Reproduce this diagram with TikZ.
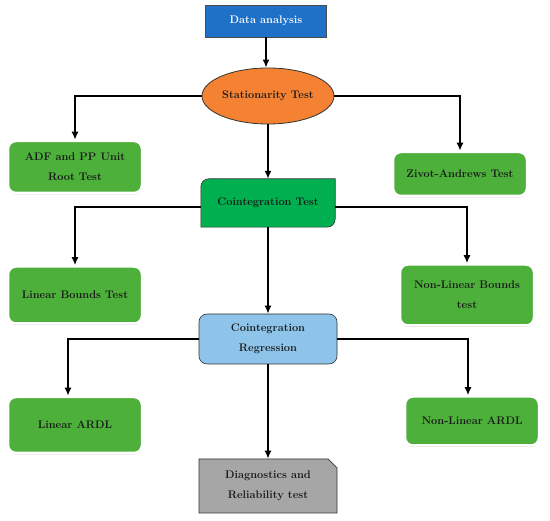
\documentclass[tikz,border=0pt]{standalone}
\usetikzlibrary{arrows.meta,shapes.geometric,shapes.misc,shadows,backgrounds}
\definecolor{databl}{RGB}{31,112,199}
\definecolor{statorange}{RGB}{245,130,50}
\definecolor{boxgreen}{RGB}{76,176,58}
\definecolor{cointgreen}{RGB}{0,176,80}
\definecolor{reglblue}{RGB}{142,196,234}
\definecolor{diaggray}{RGB}{166,166,166}
\tikzset{
  txt/.style={font=\fontsize{11}{20}\selectfont\bfseries,align=center,text=black!90},
  databox/.style={txt,rectangle,fill=databl,draw=black!70,text=white,minimum width=121pt,minimum height=32pt},
  statell/.style={txt,ellipse,fill=statorange,draw=black!80,line width=0.8pt,minimum width=132pt,minimum height=56pt,inner sep=0pt},
  testbox/.style={txt,rectangle,rounded corners=8pt,fill=boxgreen,draw=white,line width=2.5pt,
    drop shadow={shadow xshift=0pt,shadow yshift=-1.5pt,fill=black!40},
    minimum width=134pt,inner sep=2pt},
  cointbox/.style={txt,minimum width=134pt,minimum height=48pt},
  regbox/.style={txt,rectangle,rounded corners=8pt,fill=reglblue,draw=black!80,line width=0.6pt,minimum width=138pt,minimum height=50pt},
  diagbox/.style={txt,chamfered rectangle,chamfered rectangle corners=north east,chamfered rectangle xsep=6pt,
    fill=diaggray,draw=black!80,line width=0.6pt,minimum width=138pt,minimum height=54pt,inner sep=2pt},
  link/.style={-{Latex[length=8pt,width=7pt]},line width=2.3pt}
}
\begin{document}
\begin{tikzpicture}[x=1pt,y=1pt]
\useasboundingbox (0,0) rectangle (550,521);
\path (266,500) node[databox](data){Data analysis}
      (268,425) node[statell](stat){Stationarity Test}
      (75,354) node[testbox,minimum height=52pt](adf){ADF and PP Unit\\Root Test}
      (460,347) node[testbox,minimum height=44pt](zivot){Zivot-Andrews Test}
      (268,318) node[cointbox](coint){Cointegration Test}
      (75,226) node[testbox,minimum height=57pt](linb){Linear Bounds Test}
      (467,226) node[testbox,minimum height=61pt](nlinb){Non-Linear Bounds\\test}
      (268,182) node[regbox](reg){Cointegration\\Regression}
      (75,96) node[testbox,minimum height=56pt](lard){Linear ARDL}
      (472,100) node[testbox,minimum height=49pt](nlard){Non-Linear ARDL}
      (268,35) node[diagbox](diag){Diagnostics and\\Reliability test};
% box with two round corners
\begin{scope}[on background layer]
\filldraw[fill=cointgreen,draw=black!80,line width=0.6pt]
  ([xshift=8pt]coint.north west) -- (coint.north east)
  -- ([yshift=8pt]coint.south east) arc[start angle=0,end angle=-90,radius=8pt]
  -- (coint.south west) -- ([yshift=-8pt]coint.north west)
  arc[start angle=180,end angle=90,radius=8pt] -- cycle;
\end{scope}
\draw[link] (data.south) -- (data.south |- stat.north);
\draw[link] (stat.west) -| (adf.north);
\draw[link] (stat.east) -| (zivot.north);
\draw[link] (stat.south) -- (coint.north);
\draw[link] ([yshift=-4pt]coint.west) -| (linb.north);
\draw[link] ([yshift=-4pt]coint.east) -| (nlinb.north);
\draw[link] (coint.south) -- (reg.north);
\draw[link] (reg.west) -| ([xshift=-7pt]lard.north);
\draw[link] (reg.east) -| ([xshift=-4pt]nlard.north);
\draw[link] (reg.south) -- (diag.north);
\end{tikzpicture}
\end{document}
